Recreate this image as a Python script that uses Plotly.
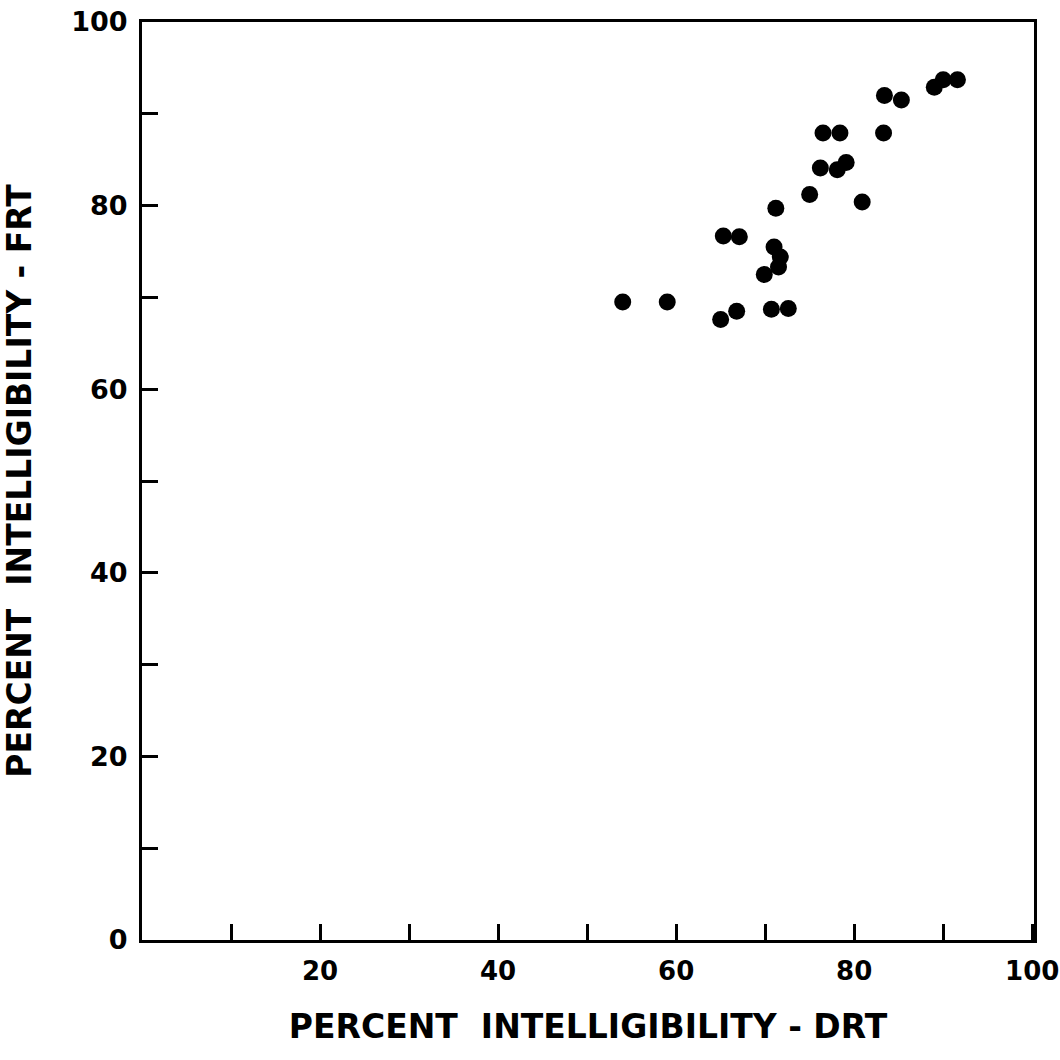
import plotly.graph_objects as go

# Percent intelligibility: DRT (x) vs FRT (y)
drt = [54.0, 59.0, 65.0, 66.8, 70.7, 72.6, 65.3, 67.1, 71.2, 71.0, 71.7, 71.5, 69.9,
       75.0, 80.9, 76.2, 78.1, 79.1, 76.5, 78.4, 83.3, 83.4, 85.3, 89.0, 90.0, 91.6]
frt = [69.5, 69.5, 67.6, 68.5, 68.7, 68.8, 76.7, 76.6, 79.7, 75.5, 74.4, 73.3, 72.5,
       81.2, 80.4, 84.1, 83.9, 84.7, 87.9, 87.9, 87.9, 92.0, 91.5, 92.9, 93.7, 93.7]

x_tickvals = [10, 20, 30, 40, 50, 60, 70, 80, 90, 100]
x_ticktext = ["", "20", "", "40", "", "60", "", "80", "", "100"]
y_tickvals = [0, 10, 20, 30, 40, 50, 60, 70, 80, 90, 100]
y_ticktext = ["0", "", "20", "", "40", "", "60", "", "80", "", "100"]

x_title = "PERCENT  INTELLIGIBILITY - DRT"
y_title = "PERCENT  INTELLIGIBILITY - FRT"

FONT = "DejaVu Sans"

fig = go.Figure()
fig.add_trace(go.Scatter(
    x=drt, y=frt, mode="markers",
    marker=dict(color="black", size=17, line=dict(width=0)),
    showlegend=False, hoverinfo="skip",
))

axis_common = dict(
    showgrid=False, zeroline=False,
    showline=True, linecolor="black", linewidth=3, mirror=True,
    ticks="inside", tickcolor="black", tickwidth=3, ticklen=16,
    ticklabeloverflow="allow",
    automargin=False,
)

fig.update_xaxes(
    range=[0, 100.2], tickmode="array", tickvals=x_tickvals, ticktext=x_ticktext,
    ticklabelstandoff=6,
    tickfont=dict(family=FONT, size=26, color="black", weight="bold"),
    title=dict(text=x_title, font=dict(family=FONT, size=33, color="black", weight="bold"),
               standoff=30),
    **axis_common,
)
fig.update_yaxes(
    range=[0, 100], tickmode="array", tickvals=y_tickvals, ticktext=y_ticktext,
    ticklabelstandoff=6,
    tickfont=dict(family=FONT, size=27, color="black", weight="bold"),
    title=dict(text=y_title, font=dict(family=FONT, size=33, color="black", weight="bold"),
               standoff=34),
    **axis_common,
)

fig.update_layout(
    width=1060, height=1060,
    margin=dict(l=142, r=26, t=22, b=120),
    paper_bgcolor="white", plot_bgcolor="white",
)

fig.write_html("out.html")
